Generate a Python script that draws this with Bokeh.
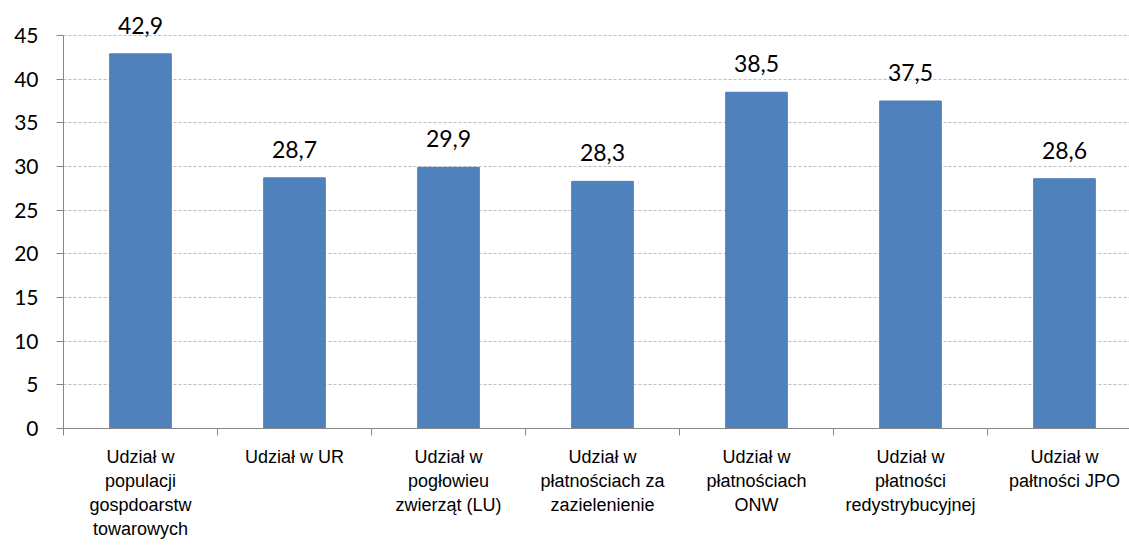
from bokeh.plotting import figure
from bokeh.models import Range1d, FixedTicker, ColumnDataSource, LabelSet
from bokeh.core.properties import value
from bokeh.embed import file_html
from bokeh.resources import INLINE

categories = [
    "Udział w\npopulacji\ngospdoarstw\ntowarowych",
    "Udział w UR",
    "Udział w\npogłowieu\nzwierząt (LU)",
    "Udział w\npłatnościach za\nzazielenienie",
    "Udział w\npłatnościach\nONW",
    "Udział w\npłatności\nredystrybucyjnej",
    "Udział w\npałtności JPO",
]
values = [42.9, 28.7, 29.9, 28.3, 38.5, 37.5, 28.6]
y_ticks = [0, 5, 10, 15, 20, 25, 30, 35, 40, 45]

xs = [i + 0.5 for i in range(len(categories))]
labels = [f"{v:.1f}".replace(".", ",") for v in values]
src = ColumnDataSource(dict(x=xs, top=values, lab=labels))

W, H = 1129, 549
left, bottom = 63, 121
plot_w = W - left
plot_h = H - bottom
cat_px = 154.0
px_per_unit = (428 - 35) / 45.0

p = figure(width=W, height=H, output_backend="svg", toolbar_location=None,
           x_range=Range1d(0, plot_w / cat_px),
           y_range=Range1d(0, plot_h / px_per_unit),
           min_border_left=left, min_border_right=0, min_border_top=0,
           min_border_bottom=bottom)
p.outline_line_color = None
p.background_fill_color = "white"

p.vbar(x="x", top="top", width=0.4, bottom=0, source=src,
       fill_color="#4F81BD", line_color="#4A7EBB", line_width=1)

lbl = LabelSet(x="x", y="top", text="lab", source=src, text_align="center",
               text_baseline="alphabetic", y_offset=20, text_font=value("Lato"),
               text_font_size=value("23px"), text_color=value("black"))
p.add_layout(lbl)

# y axis
p.yaxis.ticker = FixedTicker(ticks=y_ticks)
p.yaxis.bounds = (0, 45)
p.yaxis.axis_line_color = "#868686"
p.yaxis.major_tick_line_color = "#868686"
p.yaxis.major_tick_out = 7
p.yaxis.major_tick_in = 0
p.yaxis.minor_tick_line_color = None
p.yaxis.major_label_text_font = "Lato"
p.yaxis.major_label_text_font_size = "21px"
p.yaxis.major_label_text_color = "black"
p.yaxis.major_label_standoff = 18

# x axis
boundaries = list(range(len(categories) + 1))
p.xaxis.ticker = FixedTicker(ticks=xs, minor_ticks=boundaries)
p.xaxis.major_label_overrides = {x: c for x, c in zip(xs, categories)}
p.xaxis.axis_line_color = "#868686"
p.xaxis.major_tick_line_color = None
p.xaxis.major_tick_out = 0
p.xaxis.major_tick_in = 0
p.xaxis.minor_tick_line_color = "#868686"
p.xaxis.minor_tick_out = 7
p.xaxis.minor_tick_in = 0
p.xaxis.major_label_text_font = "Liberation Sans"
p.xaxis.major_label_text_font_size = "18px"
p.xaxis.major_label_text_color = "black"
p.xaxis.major_label_standoff = 11

p.xgrid.grid_line_color = None
p.ygrid.ticker = FixedTicker(ticks=y_ticks[1:])
p.ygrid.grid_line_color = "#BEBEBE"
p.ygrid.grid_line_dash = "3 2"
p.ygrid.grid_line_width = 1

open("out.html", "w").write(file_html(p, INLINE))
